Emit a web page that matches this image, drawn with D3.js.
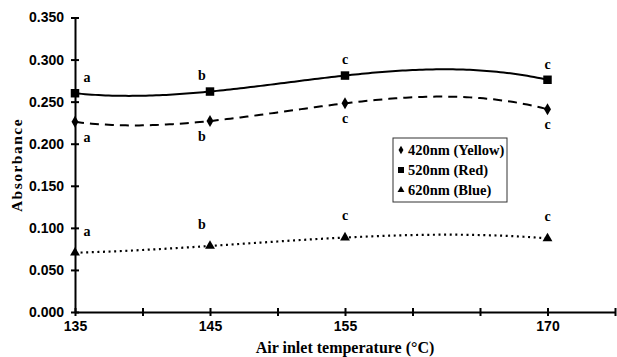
<!DOCTYPE html>
<html>
<head>
<meta charset="utf-8">
<script src="https://cdn.jsdelivr.net/npm/d3@7"></script>
<style>
  body { margin: 0; background: #fff; }
  svg { display: block; font-family: "Liberation Serif", "Times New Roman", serif; font-weight: bold; }
</style>
</head>
<body>
<svg id="chart" width="617" height="357"></svg>
<script>
// values
const temps = [135, 145, 155, 170];
const yellow = [0.226, 0.227, 0.248, 0.241];
const red = [0.260, 0.262, 0.281, 0.276];
const blue = [0.0705, 0.0785, 0.0885, 0.0875];

const yellowLetters = ['a', 'b', 'c', 'c'];
const redLetters = ['a', 'b', 'c', 'c'];
const blueLetters = ['a', 'b', 'c', 'c'];

const xTicks = [135, 140, 145, 150, 155, 160, 165, 170, 175];
const xLabelled = [135, 145, 155, 170];
const yTicks = [0, 0.05, 0.1, 0.15, 0.2, 0.25, 0.3, 0.35];

const seriesNames = ['420nm (Yellow)', '520nm (Red)', '620nm (Blue)'];

const series = [
  { name: seriesNames[0], values: yellow, letters: yellowLetters, symbol: d3.symbolDiamond, size: 42, dash: '9,6', letterDy: 15 },
  { name: seriesNames[1], values: red, letters: redLetters, symbol: d3.symbolSquare, size: 72, dash: null, letterDy: -16 },
  { name: seriesNames[2], values: blue, letters: blueLetters, symbol: d3.symbolTriangle, size: 42, dash: '2,3.6', letterDy: -22 }
];

// order 3 polynomial trendline (exact through the four points, like Excel's)
function cubicTrend(xs, ys) {
  return x => d3.sum(xs, (xi, i) => {
    let w = ys[i];
    xs.forEach((xj, j) => { if (j !== i) w *= (x - xj) / (xi - xj); });
    return w;
  });
}

const svg = d3.select('#chart');

const x = d3.scaleLinear().domain([135, 175]).range([75, 615]);
const y = d3.scaleLinear().domain([0, 0.35]).range([312, 17.5]);

// y axis
const yAxis = svg.append('g')
  .attr('transform', `translate(${x(135)},0)`)
  .call(d3.axisLeft(y).tickValues(yTicks).tickFormat(d3.format('.3f')).tickSize(4).tickSizeOuter(0).tickPadding(7));
yAxis.selectAll('.tick line').attr('x1', 4).attr('stroke-width', 2);
yAxis.select('.domain').attr('stroke-width', 2);
yAxis.selectAll('text').attr('font-size', 14).attr('font-family', null).attr('fill', '#000');

// x axis
const xAxis = svg.append('g')
  .attr('transform', `translate(0,${y(0)})`)
  .call(d3.axisBottom(x).tickValues(xTicks)
    .tickFormat(d => xLabelled.includes(d) ? d : '')
    .tickSize(4).tickSizeOuter(0).tickPadding(5));
xAxis.selectAll('.tick line').attr('y1', -4).attr('stroke-width', 2);
xAxis.select('.domain').attr('stroke-width', 2.2);
xAxis.selectAll('text').attr('font-size', 14).attr('font-family', null).attr('fill', '#000');

// axis titles
svg.append('text')
  .attr('transform', 'translate(22,165) rotate(-90)')
  .attr('text-anchor', 'middle')
  .attr('font-size', 15.5)
  .attr('letter-spacing', 1.5)
  .text('Absorbance');

svg.append('text')
  .attr('x', 345).attr('y', 353)
  .attr('text-anchor', 'middle')
  .attr('font-size', 16)
  .text('Air inlet temperature (°C)');

// trendlines
const line = d3.line().x(d => x(d[0])).y(d => y(d[1]));
const fineX = d3.range(temps[0], temps[temps.length - 1] + 0.01, 0.25);

series.forEach(s => {
  const f = cubicTrend(temps, s.values);
  svg.append('path')
    .datum(fineX.map(t => [t, f(t)]))
    .attr('fill', 'none')
    .attr('stroke', '#000')
    .attr('stroke-width', s.dash === '2,3.6' ? 2.2 : 2)
    .attr('stroke-dasharray', s.dash)
    .attr('d', line);
});

// markers
series.forEach(s => {
  svg.append('g').selectAll('path')
    .data(temps.map((t, i) => [t, s.values[i]]))
    .join('path')
    .attr('transform', d => `translate(${x(d[0])},${y(d[1])})`)
    .attr('d', d3.symbol(s.symbol, s.size))
    .attr('fill', '#000');
});

// significance letters
series.forEach(s => {
  svg.append('g').selectAll('text')
    .data(temps.map((t, i) => ({ t, v: s.values[i], l: s.letters[i], i })))
    .join('text')
    .attr('x', d => x(d.t) + (d.i === 0 ? 12 : d.i === 1 ? -8 : 0))
    .attr('y', d => y(d.v) + s.letterDy)
    .attr('dy', '0.35em')
    .attr('text-anchor', 'middle')
    .attr('font-size', 14)
    .text(d => d.l);
});

// legend
const legend = svg.append('g').attr('transform', 'translate(393,138)');
legend.append('rect')
  .attr('width', 114).attr('height', 64)
  .attr('fill', '#fff').attr('stroke', '#333').attr('stroke-width', 1);
series.forEach((s, i) => {
  const row = legend.append('g').attr('transform', `translate(0,${12 + i * 20})`);
  row.append('path')
    .attr('transform', 'translate(8,0)')
    .attr('d', d3.symbol(s.symbol, s.size * 0.5))
    .attr('fill', '#000');
  row.append('text')
    .attr('x', 15).attr('dy', '0.35em')
    .attr('font-size', 14.5)
    .text(s.name);
});
</script>
</body>
</html>
